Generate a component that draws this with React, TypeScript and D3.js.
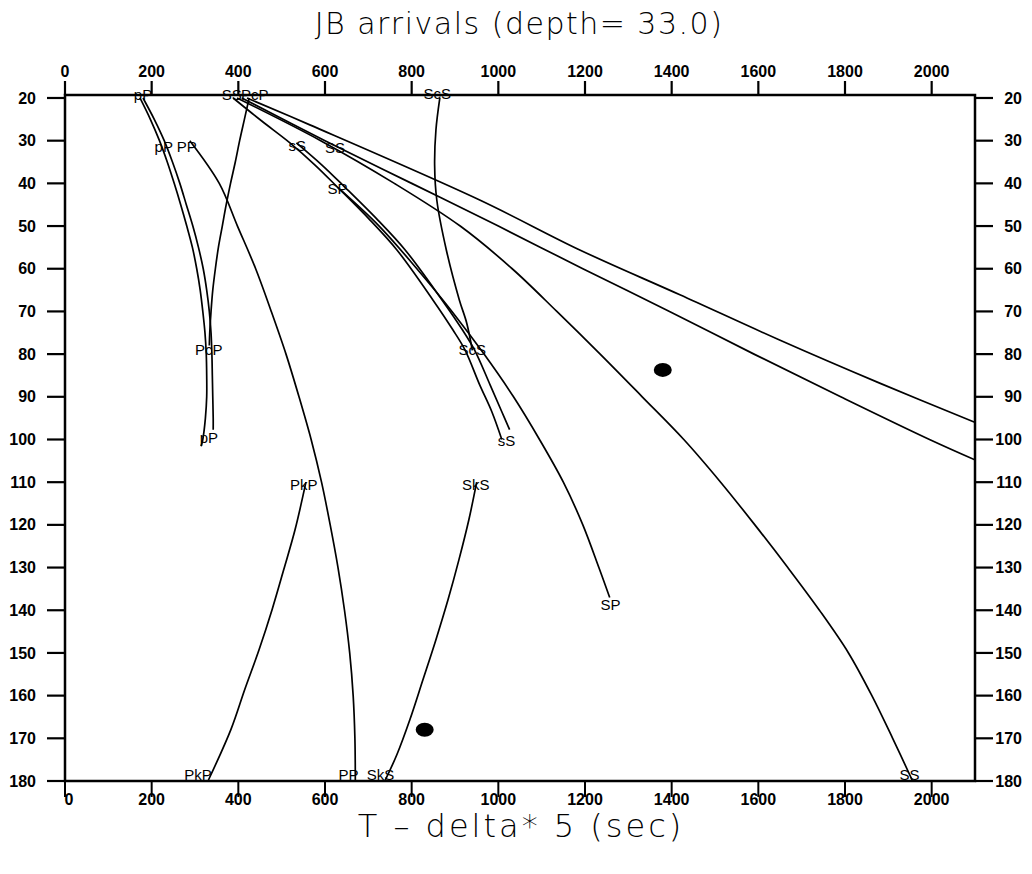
import React from "react";
import * as d3 from "d3";

// ---- axis ticks ----
const X_TICKS = [0, 200, 400, 600, 800, 1000, 1200, 1400, 1600, 1800, 2000];
const Y_TICKS = [20, 30, 40, 50, 60, 70, 80, 90, 100, 110, 120, 130, 140, 150, 160, 170, 180];

// ---- travel-time curves: [distance (deg), T - delta*5 (sec)] ----
const P_CURVE: [number, number][] = [
  [20, 173], [25, 197], [30, 218], [35, 236], [40, 252], [45, 267], [50, 281], [55, 294],
  [60, 304], [65, 312], [70, 318], [75, 323], [80, 326], [85, 327], [90, 327], [95, 324],
  [100, 318], [101.6, 314],
];
const PP_DEPTH_CURVE: [number, number][] = [
  [20, 180], [25, 206], [30, 229], [35, 248], [40, 265], [45, 280], [50, 295], [55, 308],
  [60, 319], [65, 327], [70, 333], [75, 337], [80, 339], [85, 340], [90, 341], [95, 342], [97.7, 342],
];
const PCP_CURVE: [number, number][] = [
  [20, 425], [25, 414], [30, 403], [35, 393], [40, 382], [45, 372], [50, 363], [55, 354],
  [60, 347], [65, 341], [70, 337], [75, 334], [78, 333],
];
const PP_CURVE: [number, number][] = [
  [30, 288], [40, 356], [50, 398], [60, 440], [70, 476], [80, 510], [90, 540], [100, 568],
  [110, 592], [120, 612], [130, 630], [140, 645], [150, 657], [160, 665], [170, 669], [180, 670],
];
const S_CURVE: [number, number][] = [
  [20, 388], [25.4, 454], [30.5, 519], [35.7, 577], [40.8, 628], [48.6, 704], [55.6, 766],
  [67.3, 849], [74.3, 895], [79, 923], [87.2, 957], [93.5, 985], [100, 1008],
];
const SS_DEPTH_CURVE: [number, number][] = [
  [30.5, 534], [35.7, 593], [40.8, 645], [48.6, 722], [55.6, 785], [67.3, 870], [74.3, 917],
  [79, 945], [87.2, 981], [93.5, 1008], [97.7, 1026],
];
const SP_CURVE: [number, number][] = [
  [41, 630], [50, 725], [60, 812], [70, 893], [80, 967], [90, 1035], [100, 1095], [110, 1150],
  [120, 1195], [130, 1232], [137, 1257],
];
const SCS_CURVE: [number, number][] = [
  [20, 865], [27.5, 856], [35.7, 853], [43.9, 858], [55.6, 880], [67.3, 910], [72.7, 927], [79.1, 940],
];
const SS_CURVE: [number, number][] = [
  [20, 397], [30, 590], [40, 760], [50, 912], [60, 1032], [70, 1135], [80, 1235], [90, 1332],
  [100, 1428], [110, 1513], [120, 1592], [130, 1668], [140, 1741], [150, 1808], [160, 1862],
  [170, 1910], [180, 1956],
];
const PKP_CURVE: [number, number][] = [
  [110, 556], [121.1, 531], [130.4, 505], [139.8, 478], [149.2, 448], [158.5, 415], [167.9, 383], [180, 330],
];
const SKS_CURVE: [number, number][] = [
  [110, 950], [118.8, 932], [128.2, 909], [137.5, 884], [146.9, 856], [156.3, 826], [165.6, 796],
  [173.8, 766], [180, 738],
];
const UPPER_LONG_CURVE: [number, number][] = [
  [20, 420], [26.3, 565], [43.9, 957], [55.6, 1188], [66.1, 1419], [76.7, 1649], [86.8, 1880], [96.2, 2105],
];
const LOWER_LONG_CURVE: [number, number][] = [
  [20, 408], [30, 600], [40, 800], [50, 1000], [60, 1195], [70, 1395], [80, 1590], [90, 1790],
  [100, 1995], [105, 2105],
];

const CURVES = [
  P_CURVE, PP_DEPTH_CURVE, PCP_CURVE, PP_CURVE, S_CURVE, SS_DEPTH_CURVE, SP_CURVE,
  SCS_CURVE, SS_CURVE, PKP_CURVE, SKS_CURVE, UPPER_LONG_CURVE, LOWER_LONG_CURVE,
];

// ---- phase labels: text, T - delta*5, distance ----
const LABEL_TEXT = [
  "pP", "SS", "PcP", "pP", "PP", "sS", "SS", "SP", "ScS", "PcP", "pP", "ScS",
  "sS", "PkP", "SkS", "SP", "PkP", "PP", "SkS", "SS",
];
const LABEL_T = [
  180, 385, 438, 228, 281, 536, 623, 629, 859, 332, 332, 940,
  1019, 551, 948, 1259, 307, 654, 728, 1949,
];
const LABEL_DIST = [
  19.2, 19.2, 19.2, 31.5, 31.5, 31.2, 31.6, 41.2, 19.0, 79.0, 99.5, 79.0,
  100.3, 110.6, 110.7, 138.7, 178.5, 178.5, 178.5, 178.5,
];

// ---- black dots ----
const DOT_T = [1379.5, 830];
const DOT_DIST = [83.7, 168.0];

const W = 1032;
const H = 874;
const LEFT = 65;
const RIGHT = 975;
const TOP = 95;
const BOTTOM = 781;

export default function App() {
  const x = d3.scaleLinear().domain([0, 2100]).range([LEFT, RIGHT]);
  const y = d3.scaleLinear().domain([19.3, 180]).range([TOP, BOTTOM]);
  const line = d3
    .line<[number, number]>()
    .x((d) => x(d[1]))
    .y((d) => y(d[0]))
    .curve(d3.curveCatmullRom.alpha(0.5));

  const tickFont = { fontFamily: "'Liberation Sans', Arial, sans-serif", fontWeight: 700, fontSize: 16 };
  const labelFont = { fontFamily: "'Liberation Sans', Arial, sans-serif", fontSize: 15 };
  const titleFont = { fontFamily: "'DejaVu Sans', sans-serif", fontWeight: 300 };

  return (
    <svg
      width={W}
      height={H}
      viewBox={`0 0 ${W} ${H}`}
      style={{ position: "absolute", left: 0, top: 0, background: "#fff" }}
    >
      <rect x={0} y={0} width={W} height={H} fill="#fff" />
      <defs>
        <clipPath id="plot">
          <rect x={LEFT} y={TOP - 2} width={RIGHT - LEFT} height={BOTTOM - TOP + 4} />
        </clipPath>
      </defs>

      <text x={519} y={23} textAnchor="middle" dy="0.35em" fontSize={30} letterSpacing={1.5} {...titleFont}>
        JB arrivals (depth= 33.0)
      </text>
      <text x={521} y={826} textAnchor="middle" dy="0.35em" fontSize={32} letterSpacing={3} {...titleFont}>
        T – delta* 5 (sec)
      </text>

      {/* frame */}
      <rect x={LEFT} y={TOP} width={RIGHT - LEFT} height={BOTTOM - TOP} fill="none" stroke="#000" strokeWidth={2.5} />

      {/* top & bottom axes */}
      {X_TICKS.map((t) => (
        <g key={"x" + t}>
          <line x1={x(t)} x2={x(t)} y1={TOP} y2={TOP - 14} stroke="#000" strokeWidth={2.2} />
          <text x={x(t)} y={71} textAnchor="middle" dy="0.35em" {...tickFont}>
            {t}
          </text>
          <line x1={x(t)} x2={x(t)} y1={BOTTOM} y2={BOTTOM + 16} stroke="#000" strokeWidth={2} />
          <text x={x(t) + (t === 0 ? 4 : 0)} y={799} textAnchor="middle" dy="0.35em" {...tickFont}>
            {t}
          </text>
        </g>
      ))}

      {/* left & right axes */}
      {Y_TICKS.map((t) => (
        <g key={"y" + t}>
          <line x1={LEFT} x2={LEFT - 18} y1={y(t)} y2={y(t)} stroke="#000" strokeWidth={2.2} />
          <text x={36} y={y(t)} textAnchor="end" dy="0.35em" {...tickFont}>
            {t}
          </text>
          <line x1={RIGHT} x2={RIGHT + 18} y1={y(t)} y2={y(t)} stroke="#000" strokeWidth={2.2} />
          <text x={1022} y={y(t)} textAnchor="end" dy="0.35em" {...tickFont}>
            {t}
          </text>
        </g>
      ))}

      {/* curves */}
      <g clipPath="url(#plot)">
        {CURVES.map((c, i) => (
          <path key={i} d={line(c) || ""} fill="none" stroke="#000" strokeWidth={1.7} />
        ))}
      </g>

      {/* dots */}
      {DOT_T.map((t, i) => (
        <ellipse key={"d" + i} cx={x(t)} cy={y(DOT_DIST[i])} rx={9} ry={7} fill="#000" />
      ))}

      {/* labels */}
      {LABEL_TEXT.map((s, i) => (
        <text key={"l" + i} x={x(LABEL_T[i])} y={y(LABEL_DIST[i])} textAnchor="middle" dy="0.35em" {...labelFont}>
          {s}
        </text>
      ))}
    </svg>
  );
}
